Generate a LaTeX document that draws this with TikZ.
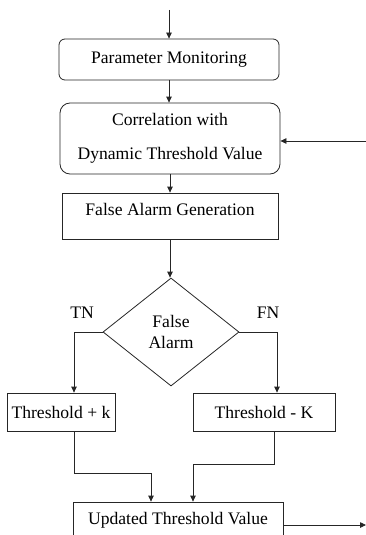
\documentclass[tikz,border=0pt]{standalone}
\usepackage{fontspec}
\setmainfont{Liberation Serif}
\usetikzlibrary{shapes.geometric,arrows.meta,calc}
\begin{document}
\begin{tikzpicture}[x=1pt,y=-1pt,
  line width=0.8pt,
  every node/.style={font=\fontsize{17.6}{21}\selectfont},
  box/.style={draw=black!85, inner sep=0pt, align=center},
  arr/.style={draw=black!85, -{Triangle[length=6pt,width=5.5pt]}},
  ln/.style={draw=black!85}]
\useasboundingbox (0,0) rectangle (366,535);
\clip (0,0) rectangle (366,535);
\node[box, rounded corners=6pt, minimum width=220pt, minimum height=41pt] (pm) at (169,59.5) {Parameter Monitoring};
\node[box, rounded corners=10pt, minimum width=220pt, minimum height=71pt, font=\fontsize{17.6}{34}\selectfont] (corr) at (170,138.5) {Correlation with\\Dynamic Threshold Value};
\node[box, minimum width=216pt, text height=22pt, text depth=24pt] (fag) at (170,216) {False Alarm Generation};
\node[box, diamond, minimum width=136pt, minimum height=108pt] (dia) at (171,332) {False\\Alarm};
\node[box, minimum width=108pt, minimum height=38pt] (tk) at (61,412) {Threshold + k};
\node[box, minimum width=142pt, minimum height=38pt] (tK) at (264,412) {Threshold - K};
\node[box, minimum width=210pt, text height=22pt, text depth=24pt] (upd) at (178,525) {Updated Threshold Value};
\node (tn) at (82,313) {TN};
\node (fn) at (268,313) {FN};
\coordinate (top) at (169,10);
\coordinate (inr) at (366,141);
\coordinate (outr) at (366,525);
\draw[arr] (top) -- (pm.north);
\draw[arr] (pm.south) -- (pm.south |- corr.north);
\draw[arr] (inr) -- (inr -| corr.east);
\draw[arr] (corr.south) -- (corr.south |- fag.north);
\draw[arr] (fag.south) -- (fag.south |- dia.north);
\draw[arr] (dia.west) -| ([xshift=13pt]tk.north);
\draw[arr] (dia.east) -| ([xshift=13pt]tK.north);
\draw[arr] ([xshift=13pt]tk.south) -- ([xshift=13pt]tk.south |- 0,473) -| ([xshift=-27pt]upd.north);
\draw[arr] ([xshift=10pt]tK.south) -- ([xshift=10pt]tK.south |- 0,464) -| ([xshift=15pt]upd.north);
\draw[arr] (upd.east) -- (outr);
\end{tikzpicture}
\end{document}
